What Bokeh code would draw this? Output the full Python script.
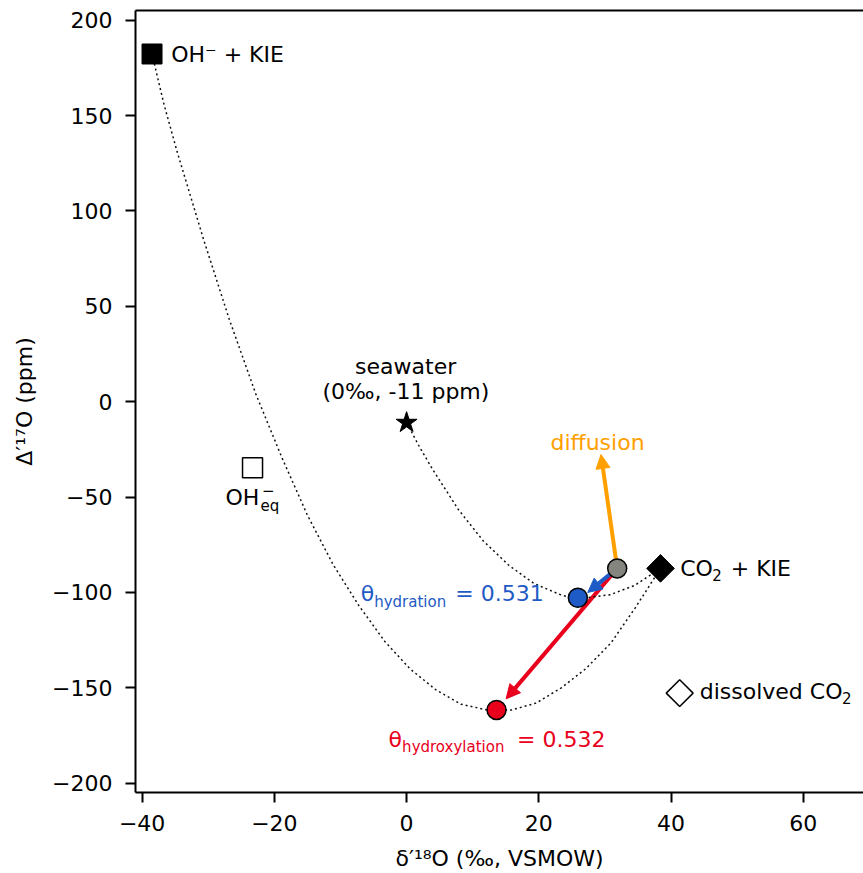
import numpy as np
from bokeh.plotting import figure
from bokeh.models import Range1d, LinearAxis, Arrow, NormalHead, FixedTicker
from bokeh.core.properties import value
from bokeh.embed import file_html
from bokeh.resources import INLINE

# ---------------- data ----------------
# mixing curve: OH- + KIE  ->  CO2 + KIE  (passes through hydroxylation point)
mixA_d18 = [-38.5, -36.7, -34.7, -30.7, -26.8, -22.8, -18.9, -15.0, -11.1, -7.2, -3.3,
            0.5, 4.4, 8.2, 12.0, 15.8, 19.6, 23.4, 27.1, 30.9, 34.6, 38.4]
mixA_D17 = [182.3, 156, 131, 85, 43, 4, -29, -59.5, -85.5, -107, -125.7,
            -140, -151, -158.6, -161.5, -161.7, -158, -150, -140, -126.5, -108, -87.4]
# mixing curve: seawater -> CO2 + KIE (passes through hydration point)
mixB_d18 = [0.0, 1.95, 3.9, 7.8, 11.6, 15.5, 19.3, 23.2, 25.1, 27.0, 30.8, 34.5, 38.4]
mixB_D17 = [-11, -23.7, -35.3, -56.4, -73, -85.9, -95.4, -101.1, -103, -102.9, -101.2, -96.3, -87.4]

# end members
oh_kie = (-38.5, 182.3)
oh_eq = (-23.3, -34.7)
seawater = (0.0, -11.0)
co2_kie = (38.4, -87.4)
co2_diss = (41.3, -152.8)

# effect points
diffusion_pt = (31.85, -87.4)
hydration_pt = (25.9, -102.8)
hydroxylation_pt = (13.6, -161.6)

# arrow ends
diffusion_tip = (29.4, -27.7)
hydration_tip = (27.4, -100.0)
hydroxylation_tip = (15.05, -155.8)

x_ticks = [-40, -20, 0, 20, 40, 60]
x_tick_labels = ["\u221240", "\u221220", "0", "20", "40", "60"]
y_ticks = [-200, -150, -100, -50, 0, 50, 100, 150, 200]
y_tick_labels = ["\u2212200", "\u2212150", "\u2212100", "\u221250", "0", "50", "100", "150", "200"]

# ---------------- style ----------------
FONT = value("DejaVu Sans")
FS = 22
FS_SUB = 15
BLUE = "#1f5bc6"
RED = "#e8001c"
ORANGE = "#ffa000"
GREY = "#85857f"

p = figure(frame_width=728, frame_height=782,
           x_range=Range1d(-41.0, 69.1), y_range=Range1d(-204.9, 205.1),
           output_backend="svg", toolbar_location=None,
           min_border_left=135, min_border_right=0, min_border_top=10, min_border_bottom=81)
p.outline_line_color = None
p.grid.visible = False
p.background_fill_color = "white"
p.border_fill_color = "white"

for ax, ticks, labels in ((p.xaxis[0], x_ticks, x_tick_labels), (p.yaxis[0], y_ticks, y_tick_labels)):
    ax.ticker = FixedTicker(ticks=ticks)
    ax.major_label_overrides = {t: l for t, l in zip(ticks, labels)}
    ax.axis_line_width = 2
    ax.axis_line_color = "black"
    ax.major_tick_line_width = 2
    ax.major_tick_line_color = "black"
    ax.major_tick_out = 10
    ax.major_tick_in = 0
    ax.minor_tick_line_color = None
    ax.major_label_text_font = "DejaVu Sans"
    ax.major_label_text_font_size = f"{FS}px"
    ax.major_label_text_color = "black"
    ax.axis_label_text_font = "DejaVu Sans"
    ax.axis_label_text_font_size = f"{FS}px"
    ax.axis_label_text_font_style = "normal"
    ax.axis_label_text_color = "black"

p.xaxis.axis_label = "\u03b4\u2032\u00b9\u2078O (\u2030, VSMOW)"
p.yaxis.axis_label = "\u0394\u2032\u00b9\u2077O (ppm)"
p.xaxis.major_label_standoff = 12
p.xaxis.axis_label_standoff = 12
p.yaxis.major_label_standoff = 13
p.yaxis.axis_label_standoff = 12

top = LinearAxis(ticker=FixedTicker(ticks=[]), axis_line_width=2, axis_line_color="black",
                 major_tick_out=0, major_tick_in=0, minor_tick_out=0, minor_tick_in=0,
                 major_label_standoff=0, axis_label_standoff=0,
                 major_label_text_font_size="0px")
p.add_layout(top, "above")

# ---------------- mixing curves ----------------
p.line(mixA_d18, mixA_D17, line_color="#111111", line_width=1.5, line_dash="2 3")
p.line(mixB_d18, mixB_D17, line_color="#111111", line_width=1.5, line_dash="2 3")

# ---------------- arrows ----------------
for start, tip, col, lw in ((diffusion_pt, diffusion_tip, ORANGE, 4),
                            (diffusion_pt, hydroxylation_tip, RED, 4),
                            (diffusion_pt, hydration_tip, BLUE, 4)):
    p.add_layout(Arrow(x_start=start[0], y_start=start[1], x_end=tip[0], y_end=tip[1],
                       line_color=col, line_width=lw, level="underlay",
                       end=NormalHead(size=14, fill_color=col, line_color=col, line_width=1)))

# ---------------- markers ----------------
p.scatter([oh_kie[0]], [oh_kie[1]], marker="square", size=20, fill_color="black", line_color="black")
p.scatter([oh_eq[0]], [oh_eq[1]], marker="square", size=20, fill_color="white", line_color="black", line_width=1.5)
p.scatter([seawater[0]], [seawater[1]], marker="star", size=22, fill_color="black", line_color="black")
p.scatter([co2_kie[0]], [co2_kie[1]], marker="square", angle=np.pi / 4, size=19.5,
          fill_color="black", line_color="black")
p.scatter([co2_diss[0]], [co2_diss[1]], marker="square", angle=np.pi / 4, size=19,
          fill_color="white", line_color="black", line_width=1.5)
p.scatter([diffusion_pt[0]], [diffusion_pt[1]], size=19, fill_color=GREY, line_color="black", line_width=1.5)
p.scatter([hydration_pt[0]], [hydration_pt[1]], size=19, fill_color=BLUE, line_color="black", line_width=1.5)
p.scatter([hydroxylation_pt[0]], [hydroxylation_pt[1]], size=19, fill_color=RED, line_color="black", line_width=1.5)


# ---------------- labels ----------------
def label(pt, txt, dx, dy, color="black", size=FS, align="left"):
    # dy is the wanted baseline offset (px, downwards); shift for renderer baseline
    p.text(x=[pt[0]], y=[pt[1]], text=[txt], x_offset=dx, y_offset=dy - 0.34 * size,
           text_font=FONT, text_font_size=f"{size}px", text_color=color,
           text_align=align, text_baseline="alphabetic")


label(oh_kie, "OH\u207b + KIE", 19.2, 8.0)
label(oh_eq, "OH", 6.7, 37.3, align="right")
label(oh_eq, "eq", 8.0, 43.3, size=FS_SUB)
label(oh_eq, "\u2212", 9.5, 27.7, size=FS_SUB)
label(seawater, "seawater", -0.9, -49.0, align="center")
label(seawater, "(0\u2030, -11 ppm)", -0.7, -23.7, align="center")
label(diffusion_tip, "diffusion", -3.5, -4.5, color=ORANGE, align="center")

label(co2_kie, "CO", 19.7, 7.6)
label(co2_kie, "2", 51.8, 11.6, size=FS_SUB)
label(co2_kie, "+ KIE", 70.2, 7.6)
label(co2_diss, "dissolved CO", 20.0, 6.3)
label(co2_diss, "2", 162.3, 10.3, size=FS_SUB)

label(hydration_pt, "\u03b8", -217.2, 3.6, color=BLUE)
label(hydration_pt, "hydration", -203.7, 9.0, color=BLUE, size=FS_SUB)
label(hydration_pt, "= 0.531", -122.6, 3.6, color=BLUE)

label(hydroxylation_pt, "\u03b8", -107.9, 37.0, color=RED)
label(hydroxylation_pt, "hydroxylation", -94.4, 42.3, color=RED, size=FS_SUB)
label(hydroxylation_pt, "= 0.532", 20.6, 37.0, color=RED)

open("out.html", "w").write(file_html(p, INLINE))
